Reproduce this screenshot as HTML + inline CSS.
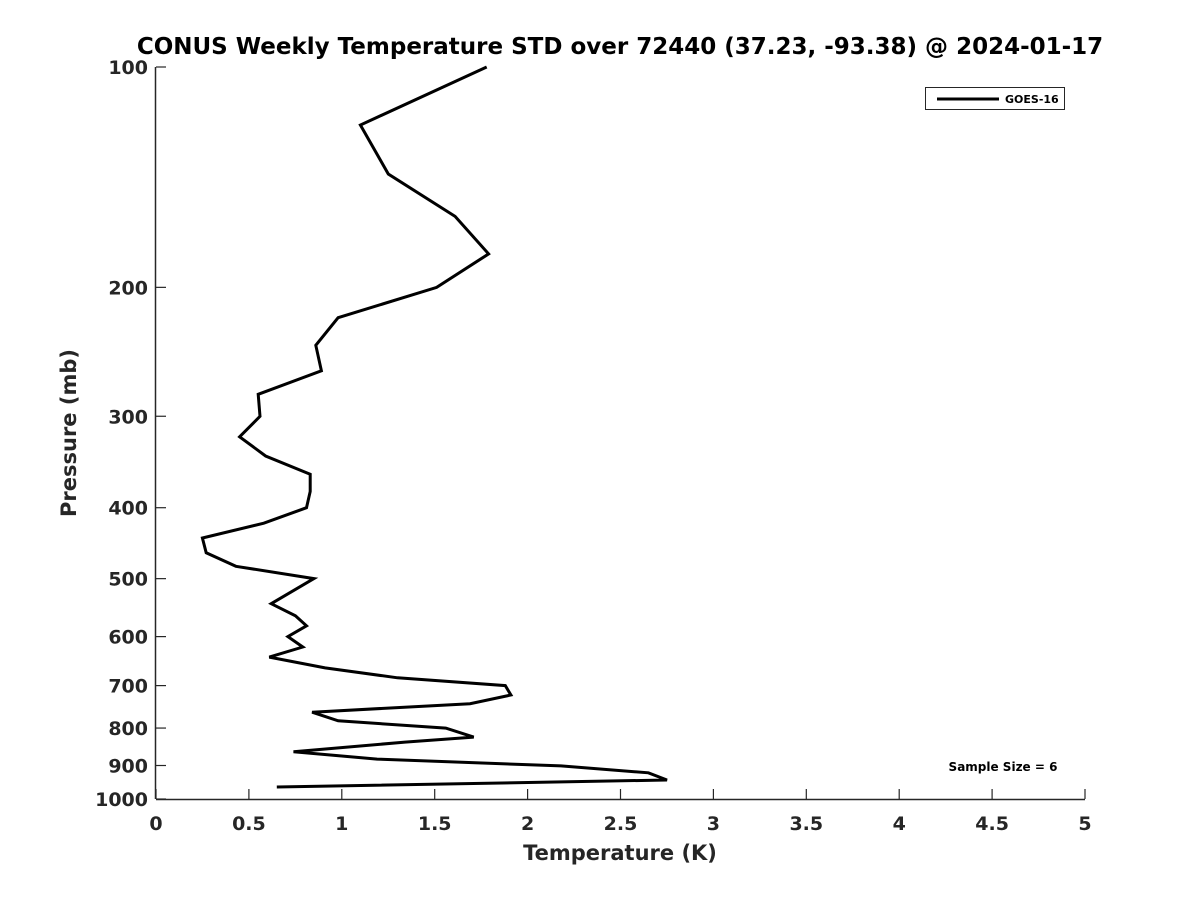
<!DOCTYPE html>
<html><head><meta charset="utf-8"><style>
html,body{margin:0;padding:0;background:#fff;}
svg text{font-family:"DejaVu Sans","Liberation Sans",sans-serif;font-weight:bold;fill:#262626;}
</style></head><body>
<svg id="chart" width="1200" height="900" xmlns="http://www.w3.org/2000/svg">
<rect width="1200" height="900" fill="#fff"/>
<text x="620" y="54" text-anchor="middle" font-size="23" style="fill:#000">CONUS Weekly Temperature STD over 72440 (37.23, -93.38) @ 2024-01-17</text>
<g id="axes"></g>
<g id="series"></g>
<text x="620" y="860" text-anchor="middle" font-size="21">Temperature (K)</text>
<text transform="translate(76,433) rotate(-90)" text-anchor="middle" font-size="21">Pressure (mb)</text>
<g>
<rect x="925.5" y="87.5" width="139" height="22" fill="#fff" stroke="#262626" stroke-width="1"/>
<line x1="937" y1="99" x2="999" y2="99" stroke="#000" stroke-width="3"/>
<text x="1005" y="103" font-size="11" style="fill:#000">GOES-16</text>
</g>
<text x="1003" y="771" text-anchor="middle" font-size="12" style="fill:#000">Sample Size = 6</text>
</svg>
<script>
const xTicks = [0,0.5,1,1.5,2,2.5,3,3.5,4,4.5,5];
const yTicks = [100,200,300,400,500,600,700,800,900,1000];
const temps = [1.78,1.10,1.25,1.61,1.79,1.51,0.98,0.86,0.89,0.55,0.56,0.45,0.59,0.83,0.83,0.81,0.58,0.25,0.27,0.43,0.85,0.62,0.75,0.81,0.71,0.79,0.61,0.91,1.30,1.88,1.91,1.69,0.84,0.98,1.56,1.71,1.34,0.74,1.19,2.18,2.65,2.75,0.65];
const pressures = [100,120,140,160,180,200,220,240,260,280,300,320,340,360,380,400,420,440,461,481,500,541,562,580,600,620,640,662,683,700,721,741,761,782,800,823,836,862,882,901,921,942,963];
const X0=156,X1=1085,Y0=67,Y1=799;
function xs(v){return X0+(v-0)/(5-0)*(X1-X0);}
function ys(p){return Y0+(Math.log10(p)-2)/(1)*(Y1-Y0);}
const NS="http://www.w3.org/2000/svg";
const ax=document.getElementById('axes');
function mk(t,a,parent){const e=document.createElementNS(NS,t);for(const k in a)e.setAttribute(k,a[k]);parent.appendChild(e);return e;}
const xl=mk('line',{x1:X0,y1:Y1+0.5,x2:X1,y2:Y1+0.5,stroke:'#262626','stroke-width':1.5},ax);


const yl=mk('line',{x1:X0-0.5,y1:Y0,x2:X0-0.5,y2:Y1,stroke:'#262626','stroke-width':1.5},ax);


xTicks.forEach(v=>{
  const x=xs(v);
  const t=mk('line',{x1:x,y1:Y1,x2:x,y2:Y1-10,stroke:'#262626','stroke-width':1.2},ax);
  
  
  const l=mk('text',{x:x,y:Y1+31,'text-anchor':'middle','font-size':19},ax);
  l.textContent=String(v);
  
  
});
yTicks.forEach(v=>{
  const y=ys(v);
  const t=mk('line',{x1:X0,y1:y,x2:X0+10,y2:y,stroke:'#262626','stroke-width':1.2},ax);
  
  
  const l=mk('text',{x:X0-8,y:y+7,'text-anchor':'end','font-size':19},ax);
  l.textContent=String(v);
  
  
});
const pts=temps.map((t,i)=>xs(t).toFixed(1)+','+ys(pressures[i]).toFixed(1)).join(' ');
const pl=mk('polyline',{points:pts,fill:'none',stroke:'#000','stroke-width':3,'stroke-linejoin':'miter'},document.getElementById('series'));


</script>
</body></html>
